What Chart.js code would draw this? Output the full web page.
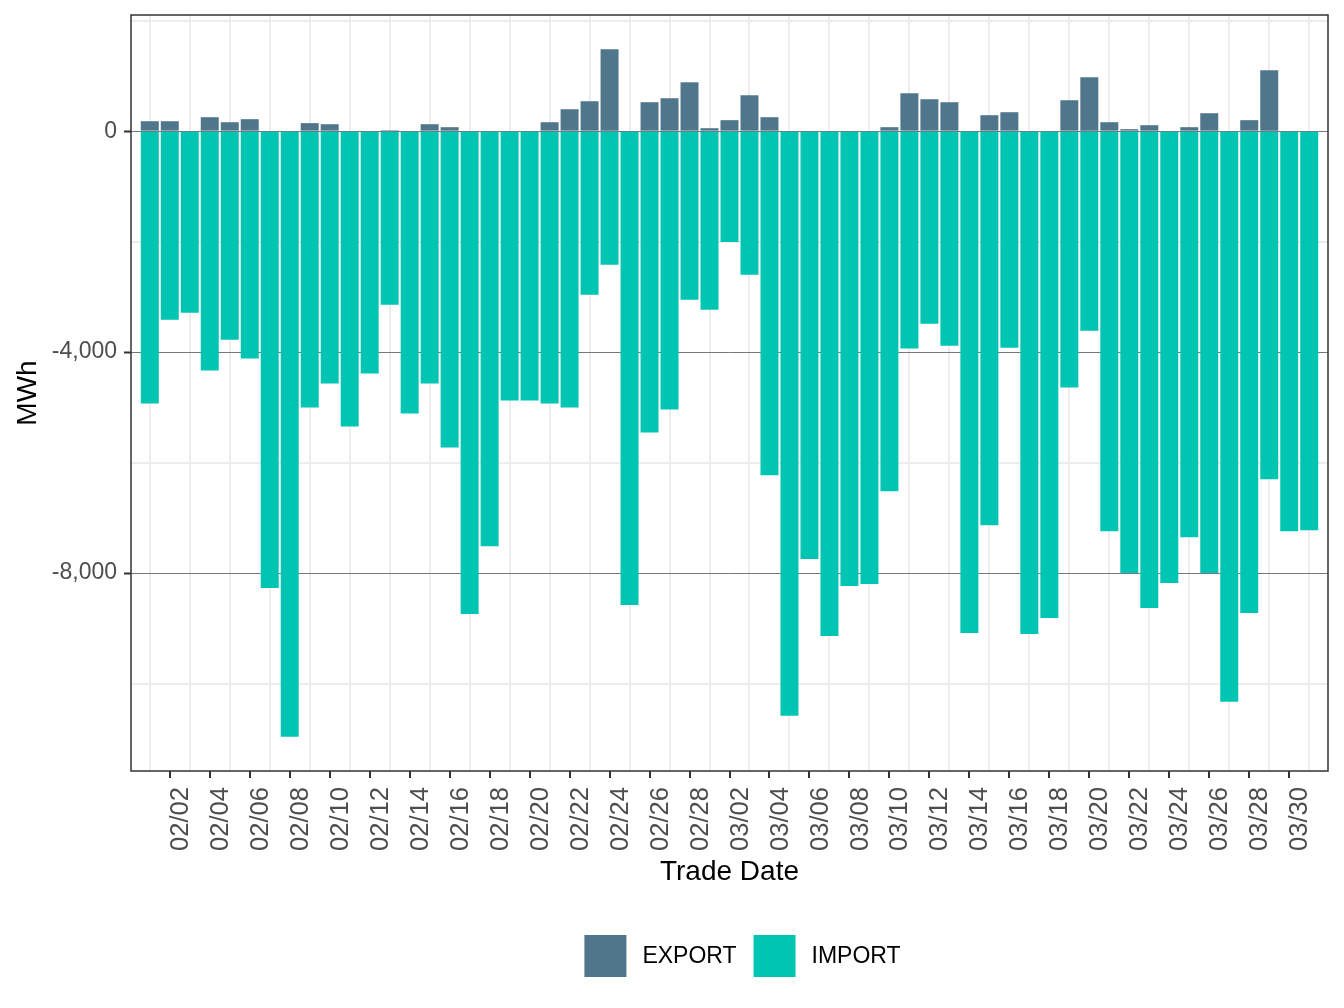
<!DOCTYPE html>
<html>
<head>
<meta charset="utf-8">
<script src="https://cdn.jsdelivr.net/npm/chart.js@4.4.0/dist/chart.umd.min.js"></script>
<style>
  html, body { margin: 0; padding: 0; background: #fff; }
</style>
</head>
<body>
<canvas id="flowChart" width="1344" height="1008"></canvas>
<script>
// one bar per trade date, 02/01 .. 03/31
const tradeDates = [
  '02/01', '02/02', '02/03', '02/04', '02/05', '02/06', '02/07', '02/08', '02/09', '02/10',
  '02/11', '02/12', '02/13', '02/14', '02/15', '02/16', '02/17', '02/18', '02/19', '02/20',
  '02/21', '02/22', '02/23', '02/24', '02/25', '02/26', '02/27', '02/28', '03/01', '03/02',
  '03/03', '03/04', '03/05', '03/06', '03/07', '03/08', '03/09', '03/10', '03/11', '03/12',
  '03/13', '03/14', '03/15', '03/16', '03/17', '03/18', '03/19', '03/20', '03/21', '03/22',
  '03/23', '03/24', '03/25', '03/26', '03/27', '03/28', '03/29', '03/30', '03/31'
];
const exportMWh = [
  180, 180, 0, 253, 162, 217, 0, 0, 145, 126,
  0, 0, 18, 0, 126, 72, 0, 0, 0, 0,
  162, 397, 542, 1481, 0, 524, 596, 885, 54, 199,
  650, 253, 0, 0, 0, 0, 0, 72, 686, 578,
  524, 0, 289, 343, 0, 0, 560, 975, 162, 36,
  108, 0, 72, 325, 0, 199, 1102, 0, 0
];
const importMWh = [
  -4930, -3413, -3287, -4334, -3775, -4118, -8271, -10962, -5003, -4569,
  -5346, -4389, -3142, -5111, -4569, -5725, -8741, -7513, -4876, -4876,
  -4930, -5003, -2962, -2420, -8578, -5454, -5039, -3052, -3233, -2005,
  -2601, -6231, -10583, -7748, -9138, -8235, -8199, -6520, -3937, -3486,
  -3883, -9084, -7134, -3919, -9102, -8813, -4641, -3612, -7242, -8001,
  -8633, -8181, -7350, -8001, -10330, -8723, -6303, -7242, -7224
];
const yTickValues = [-10000, -8000, -6000, -4000, -2000, 0, 2000];
const yLabelStep = 4000;

// ggplot style 5% expansion of the data range
const dataMin = Math.min(...importMWh);
const dataMax = Math.max(...exportMWh);
const yPad = (dataMax - dataMin) * 0.05;
// x runs on day index so the panel can be padded like the date scale
const xPad = 0.94;

const toPoints = arr => arr.map((v, i) => ({ x: i, y: v }));
const tickValue = c => (c.tick ? c.tick.value : NaN);
const NONE = 'rgba(0,0,0,0)';

Chart.defaults.font.family = '"Liberation Sans", Arial, sans-serif';

const panelBorder = {
    id: 'panelBorder',
    afterDatasetsDraw(chart) {
        const { ctx, chartArea: a } = chart;
        ctx.save();
        ctx.strokeStyle = '#333333';
        ctx.lineWidth = 1.5;
        ctx.strokeRect(a.left, a.top, a.right - a.left, a.bottom - a.top);
        ctx.restore();
    }
};

// ggplot-like key: square, gap, label; centred under the panel
const keyLegend = {
    id: 'keyLegend',
    afterDraw(chart) {
        const { ctx, chartArea: a } = chart;
        const box = 42, gap = 16, itemGap = 17, top = 935;
        ctx.save();
        ctx.font = '23px "Liberation Sans", Arial, sans-serif';
        const items = chart.data.datasets.map(ds => ({
            text: ds.label, color: ds.backgroundColor, w: ctx.measureText(ds.label).width
        }));
        const total = items.reduce((s, it) => s + box + gap + it.w, 0) + itemGap * (items.length - 1);
        let x = (a.left + a.right) / 2 + 13 - total / 2;
        ctx.textBaseline = 'middle';
        items.forEach(it => {
            ctx.fillStyle = it.color;
            ctx.fillRect(x, top, box, box);
            ctx.fillStyle = '#000000';
            ctx.fillText(it.text, x + box + gap, top + box / 2 + 1);
            x += box + gap + it.w + itemGap;
        });
        ctx.restore();
    }
};

const isMajor = v => v % yLabelStep === 0;

new Chart(document.getElementById('flowChart'), {
    type: 'bar',
    data: {
        datasets: [{
            label: 'EXPORT',
            data: toPoints(exportMWh),
            backgroundColor: '#50768b'
        }, {
            label: 'IMPORT',
            data: toPoints(importMWh),
            backgroundColor: '#00c5b2'
        }]
    },
    options: {
        responsive: false,
        animation: false,
        datasets: {
            bar: { barPercentage: 0.9, categoryPercentage: 1.0 }
        },
        layout: { padding: { top: 15, right: 16, left: 0, bottom: 90 } },
        plugins: {
            tooltip: { enabled: false },
            legend: { display: false }
        },
        scales: {
            x: {
                type: 'linear',
                stacked: true,
                offset: false,
                min: -xPad,
                max: tradeDates.length - 1 + xPad,
                afterBuildTicks: s => { s.ticks = tradeDates.map((d, i) => ({ value: i })); },
                border: { display: false, color: NONE },
                grid: {
                    offset: false,
                    lineWidth: 2,
                    color: c => tickValue(c) % 2 === 0 ? '#ededed' : NONE,
                    tickColor: c => tickValue(c) % 2 === 1 ? '#333333' : NONE,
                    tickLength: 7,
                    tickWidth: 2
                },
                ticks: {
                    autoSkip: false,
                    minRotation: 90,
                    maxRotation: 90,
                    padding: 9,
                    labelOffset: 11,
                    color: '#4d4d4d',
                    font: { size: 25.6 },
                    // label every other day, starting at 02/02
                    callback: v => v % 2 === 1 ? tradeDates[v] : ''
                },
                title: {
                    display: true,
                    text: 'Trade Date',
                    color: '#000000',
                    font: { size: 28 },
                    padding: { top: 0, bottom: 29 }
                },
                afterFit: s => {
                    s.height = 147;
                    s.paddingLeft = 0;
                    s.paddingRight = 0;
                }
            },
            y: {
                stacked: true,
                min: dataMin - yPad,
                max: dataMax + yPad,
                afterBuildTicks: s => { s.ticks = yTickValues.map(v => ({ value: v })); },
                border: { display: false, color: NONE },
                grid: {
                    color: c => isMajor(tickValue(c)) ? '#777777' : '#ededed',
                    lineWidth: c => isMajor(tickValue(c)) ? 1 : 2,
                    tickColor: c => isMajor(tickValue(c)) ? '#333333' : NONE,
                    tickLength: 7,
                    tickWidth: 2
                },
                ticks: {
                    padding: 7,
                    color: '#4d4d4d',
                    font: { size: 23 },
                    callback: v => isMajor(v) ? v.toLocaleString('en-US') : ''
                },
                title: {
                    display: true,
                    text: 'MWh',
                    color: '#000000',
                    font: { size: 28 },
                    padding: { top: 11, bottom: 0 }
                },
                afterFit: s => {
                    s.width = 131;
                    s.paddingTop = 0;
                    s.paddingBottom = 0;
                }
            }
        }
    },
    plugins: [panelBorder, keyLegend]
});
</script>
</body>
</html>
